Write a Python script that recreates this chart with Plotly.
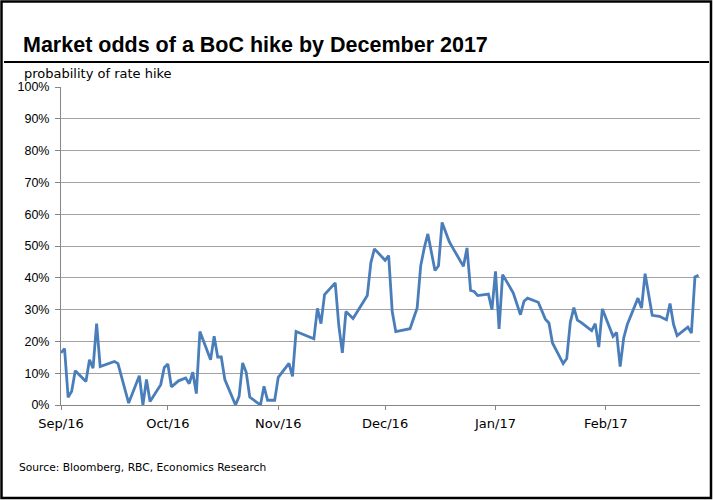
import plotly.graph_objects as go

# ---- data ----
dates = [
    "2016-09-01", "2016-09-02", "2016-09-03", "2016-09-04", "2016-09-05",
    "2016-09-08", "2016-09-09", "2016-09-10", "2016-09-11", "2016-09-12",
    "2016-09-16", "2016-09-17", "2016-09-20", "2016-09-23", "2016-09-24",
    "2016-09-25", "2016-09-26", "2016-09-29", "2016-09-30", "2016-10-01",
    "2016-10-02", "2016-10-04", "2016-10-06", "2016-10-07", "2016-10-08",
    "2016-10-09", "2016-10-10", "2016-10-13", "2016-10-14", "2016-10-15",
    "2016-10-16", "2016-10-17", "2016-10-20", "2016-10-21", "2016-10-22",
    "2016-10-23", "2016-10-24", "2016-10-27", "2016-10-28", "2016-10-29",
    "2016-10-31", "2016-11-01", "2016-11-04", "2016-11-05", "2016-11-06",
    "2016-11-11", "2016-11-12", "2016-11-13", "2016-11-14", "2016-11-17",
    "2016-11-18", "2016-11-19", "2016-11-20", "2016-11-22", "2016-11-26",
    "2016-11-27", "2016-11-28", "2016-12-01", "2016-12-02", "2016-12-03",
    "2016-12-04", "2016-12-08", "2016-12-10", "2016-12-11", "2016-12-12",
    "2016-12-13", "2016-12-15", "2016-12-16", "2016-12-17", "2016-12-19",
    "2016-12-20", "2016-12-23", "2016-12-24", "2016-12-25", "2016-12-26",
    "2016-12-27", "2016-12-30", "2016-12-31", "2017-01-01", "2017-01-02",
    "2017-01-03", "2017-01-06", "2017-01-08", "2017-01-09", "2017-01-10",
    "2017-01-13", "2017-01-15", "2017-01-16", "2017-01-17", "2017-01-20",
    "2017-01-21", "2017-01-22", "2017-01-23", "2017-01-24", "2017-01-25",
    "2017-01-28", "2017-01-29", "2017-01-30", "2017-01-31", "2017-02-03",
    "2017-02-04", "2017-02-05", "2017-02-06", "2017-02-07", "2017-02-10",
    "2017-02-11", "2017-02-12", "2017-02-14", "2017-02-16", "2017-02-18",
    "2017-02-19", "2017-02-20", "2017-02-21", "2017-02-24", "2017-02-25",
    "2017-02-26", "2017-02-27",
]
odds = [
    16.4, 17.7, 2.4, 4.3, 10.8,
    7.4, 14.2, 11.6, 25.6, 12.1,
    13.7, 13.0, 0.6, 9.2, 0.0,
    8.0, 1.1, 6.4, 11.8, 12.9,
    5.7, 7.6, 8.5, 6.7, 10.3,
    3.6, 23.1, 14.2, 21.6, 15.1,
    15.1, 8.0, 0.0, 2.7, 13.2,
    10.3, 2.5, 0.0, 5.9, 1.5,
    1.5, 8.7, 13.1, 9.0, 23.1,
    20.8, 30.4, 25.6, 34.7, 38.4,
    25.0, 16.4, 29.4, 27.2, 34.4,
    44.7, 49.1, 45.5, 47.0, 29.4,
    23.1, 24.0, 30.5, 43.8, 49.4,
    53.8, 42.3, 43.8, 57.4, 51.4,
    49.4, 43.6, 49.4, 36.0, 35.7,
    34.4, 34.9, 30.0, 42.0, 23.9,
    41.0, 35.2, 28.4, 32.6, 33.6,
    32.3, 27.0, 25.8, 19.5, 13.0,
    14.6, 26.0, 30.6, 26.7, 26.0,
    23.4, 25.6, 18.2, 30.2, 21.6,
    22.8, 12.1, 21.1, 25.3, 33.6,
    30.5, 41.3, 28.2, 27.9, 26.8,
    31.9, 25.3, 21.8, 24.5, 22.6,
    40.3, 40.8,
]

month_ticks = ["2016-09-01", "2016-10-01", "2016-11-01",
               "2016-12-01", "2017-01-01", "2017-02-01"]
month_labels = ["Sep/16", "Oct/16", "Nov/16", "Dec/16", "Jan/17", "Feb/17"]
y_ticks = list(range(0, 101, 10))
y_labels = [f"{v}%" for v in y_ticks]

title_text = "Market odds of a BoC hike by December 2017"
subtitle_text = "probability of rate hike"
source_text = "Source: Bloomberg, RBC, Economics Research"

# ---- figure ----
W, H = 713, 500
ML, MR, MT, MB = 61, 13, 87, 95
PW, PH = W - ML - MR, H - MT - MB


def px_x(px):
    return (px - ML) / PW


def px_y(py):
    return (H - MB - py) / PH


fig = go.Figure()
fig.add_trace(go.Scatter(
    x=dates, y=odds, mode="lines",
    line=dict(color="#4a7ebb", width=2.8),
    hoverinfo="skip", showlegend=False,
))

axis_grey = "#868686"
fig.update_layout(
    width=W, height=H, autosize=False,
    margin=dict(l=ML, r=MR, t=MT, b=MB, pad=0),
    paper_bgcolor="white", plot_bgcolor="white",
    showlegend=False,
    xaxis=dict(
        type="date",
        range=["2016-09-01", "2017-02-27 10:00"],
        tickmode="array", tickvals=month_ticks, ticktext=month_labels,
        showgrid=False, zeroline=False,
        showline=True, linecolor=axis_grey, linewidth=1,
        ticks="outside", ticklen=4, tickcolor=axis_grey, tickwidth=1,
        ticklabelstandoff=2,
        tickfont=dict(family="DejaVu Sans", size=13, color="black"),
    ),
    yaxis=dict(
        range=[0, 100],
        tickmode="array", tickvals=y_ticks, ticktext=y_labels,
        showgrid=True, gridcolor="#a3a3a3", gridwidth=1,
        zeroline=False,
        showline=True, linecolor=axis_grey, linewidth=1,
        ticks="outside", ticklen=5, tickcolor=axis_grey, tickwidth=1,
        ticklabelstandoff=3,
        tickfont=dict(family="Liberation Sans", size=12.5, color="black"),
    ),
)

fig.add_annotation(
    text=f"<b>{title_text}</b>", xref="paper", yref="paper",
    x=px_x(21), y=px_y(45), xanchor="left", yanchor="middle",
    showarrow=False,
    font=dict(family="Liberation Sans", size=21.5, color="black"),
)
fig.add_annotation(
    text=subtitle_text, xref="paper", yref="paper",
    x=px_x(22), y=px_y(73), xanchor="left", yanchor="middle",
    showarrow=False,
    font=dict(family="DejaVu Sans", size=13, color="black"),
)
fig.add_annotation(
    text=source_text, xref="paper", yref="paper",
    x=px_x(17), y=px_y(467), xanchor="left", yanchor="middle",
    showarrow=False,
    font=dict(family="DejaVu Sans", size=10.7, color="black"),
)

# outer frame and title rule
fig.add_shape(type="rect", xref="paper", yref="paper",
              x0=px_x(1.5), x1=px_x(711), y0=px_y(498), y1=px_y(1.5),
              line=dict(color="black", width=2.5), fillcolor="rgba(0,0,0,0)")
fig.add_shape(type="line", xref="paper", yref="paper",
              x0=px_x(4), x1=px_x(709), y0=px_y(62), y1=px_y(62),
              line=dict(color="black", width=2))

fig.write_html("out.html")
